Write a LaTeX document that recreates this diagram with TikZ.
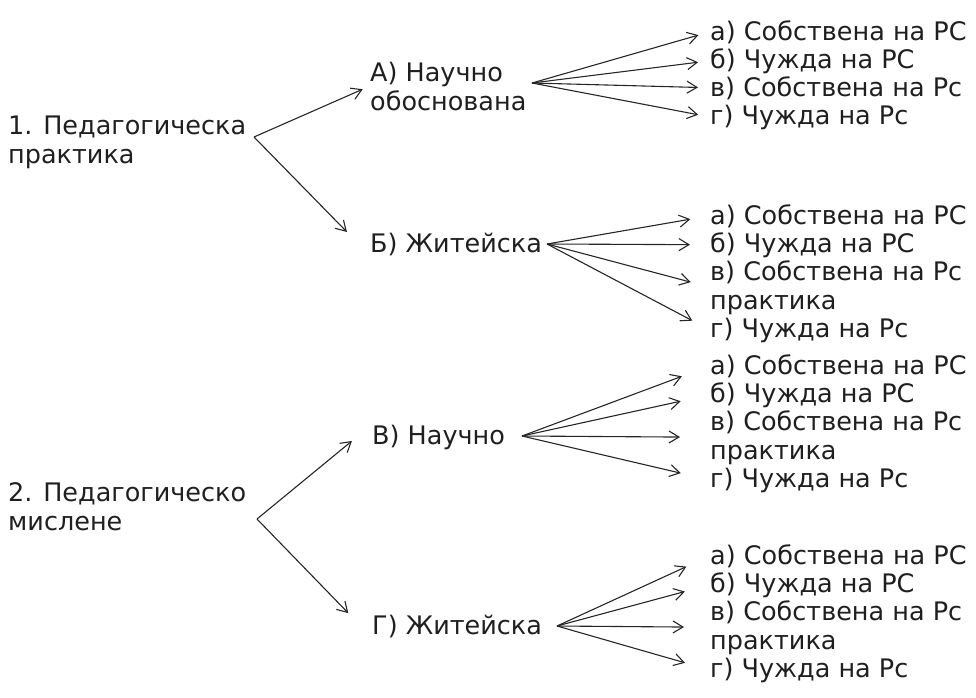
\documentclass[tikz,border=0pt]{standalone}
\usepackage{fontspec}
\setmainfont{DejaVu Sans}
\usepackage{tikz}
\usetikzlibrary{arrows.meta}

\tikzset{
    lbl/.style={anchor=base west, inner sep=0pt, align=left,
        font=\fontsize{25.5}{29}\selectfont, text=black!88},
    fan/.style={draw=black!85, line width=1.1pt,
        -{Straight Barb[length=10pt, width=12pt]}},
}

\begin{document}
\begin{tikzpicture}[x=1pt, y=-1pt]
    \useasboundingbox (0,0) rectangle (976,697);

    % Left column (base = last line)
    \node[lbl] (P1) at (8,163) {1. Педагогическа\\практика};
    \node[lbl] (P2) at (8,530) {2. Педагогическо\\мислене};

    % Middle column
    \node[lbl] (A) at (370,110) {А) Научно\\обоснована};
    \node[lbl] (B) at (370,252) {Б) Житейска};
    \node[lbl] (C) at (372,444) {В) Научно};
    \node[lbl] (D) at (372,634) {Г) Житейска};

    % Right column
    \foreach \n/\y/\t in {
        1/40/{а) Собствена на РС},
        2/68/{б) Чужда на РС},
        3/96/{в) Собствена на Рс},
        4/124/{г) Чужда на Рс}} {
        \node[lbl] (a\n) at (710,\y) {\t};
    }
    \foreach \g/\y in {b/224, c/374, d/564} {
        \node[lbl] (\g1) at (710,\y) {а) Собствена на РС};
        \node[lbl] (\g2) at (710,\y+28) {б) Чужда на РС};
        \node[lbl] (\g3) at (710,\y+85) {в) Собствена на Рс\\практика};
        \node[lbl] (\g4) at (710,\y+113) {г) Чужда на Рс};
    }

    % Branch points
    \coordinate (vp1) at (254,137);
    \coordinate (vp2) at (257,519);
    \coordinate (va) at (532,83);
    \coordinate (vb) at (547,244);
    \coordinate (vc) at (522,436);
    \coordinate (vd) at (557,626);

    % Arrows
    \draw[fan, shorten >=8pt] (vp1) -- (A.west);
    \draw[fan, shorten >=33pt] (vp1) -- (B.south west);
    \draw[fan, shorten >=26pt] (vp2) -- (C.north west);
    \draw[fan, shorten >=34pt] (vp2) -- (D.south west);

    \foreach \g/\s in {a/12pt, b/20pt, c/30pt, d/26pt}
        \foreach \i in {1,...,4}
            \draw[fan, shorten >=\s] (v\g) -- (\g\i.west);
\end{tikzpicture}
\end{document}
